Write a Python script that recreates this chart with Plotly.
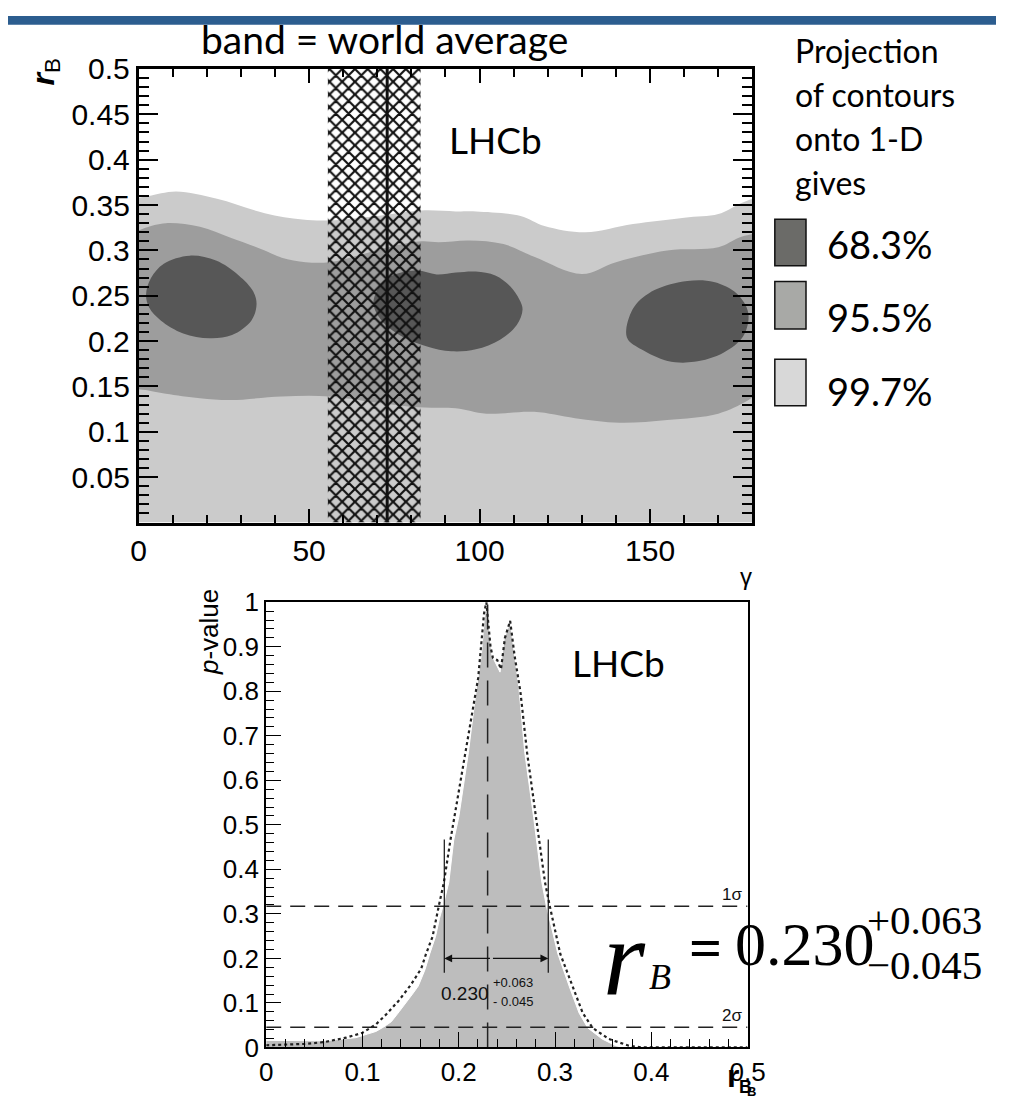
import plotly.graph_objects as go

W, H = 1014, 1114

# ---------------- top panel: r_B vs gamma contours ----------------
# 99.7% region (from r_B = 0 up to this boundary)
g997_top = [0, 3, 11, 23, 37, 48, 56, 70, 83, 93, 99, 112, 119, 131, 145, 160, 170, 176, 180]
rb997_top = [0.358, 0.360, 0.365, 0.357, 0.341, 0.334, 0.333, 0.338, 0.344, 0.343, 0.343,
             0.338, 0.327, 0.320, 0.329, 0.336, 0.340, 0.351, 0.357]

# 95.5% band boundaries
g955_top = [0, 2, 8, 18, 27, 37, 42, 49, 56, 65, 75, 83, 88, 97, 107, 116, 130, 140, 155, 170, 176, 180]
rb955_top = [0.322, 0.325, 0.330, 0.326, 0.314, 0.300, 0.292, 0.287, 0.287, 0.295, 0.305, 0.310,
             0.309, 0.311, 0.307, 0.293, 0.274, 0.287, 0.300, 0.3035, 0.314, 0.318]
g955_bot = [0, 2, 8, 18, 27, 42, 56, 70, 82, 93, 102, 116, 128, 141, 155, 170, 178, 180]
rb955_bot = [0.147, 0.146, 0.142, 0.137, 0.135, 0.139, 0.139, 0.132, 0.127, 0.126, 0.120,
             0.122, 0.115, 0.110, 0.113, 0.120, 0.133, 0.138]

# 68.3% islands
ell1_g = [2.2, 3.6, 7.4, 15.0, 22.7, 29.3, 33.6, 34.6, 33.1, 27.4, 20.8, 13.1, 6.5, 3.1, 2.2]
ell1_rb = [0.2513, 0.2692, 0.2853, 0.2942, 0.2888, 0.2727, 0.2549, 0.2406, 0.2228, 0.2067,
           0.2032, 0.2085, 0.2228, 0.2370, 0.2513]
ell2_g = [68.9, 71.7, 76.0, 81.7, 87.4, 93.1, 98.9, 104.6, 108.9, 111.7, 112.6, 110.9, 106.0,
          98.9, 91.7, 84.6, 77.4, 71.7, 69.4, 68.9]
ell2_rb = [0.2444, 0.2660, 0.2745, 0.2777, 0.2735, 0.2756, 0.2767, 0.2724, 0.2606, 0.2456,
           0.2349, 0.2177, 0.2016, 0.1909, 0.1887, 0.1941, 0.2048, 0.2209, 0.2338, 0.2444]
ell3_g = [143.0, 145.4, 151.3, 160.9, 168.7, 175.4, 178.8, 177.3, 171.5, 162.9, 155.1, 147.4,
          143.5, 143.0]
ell3_rb = [0.2127, 0.2381, 0.2562, 0.2663, 0.2652, 0.2525, 0.2308, 0.2054, 0.1872, 0.1771,
           0.1781, 0.1909, 0.2017, 0.2127]

# world average of gamma
wa_center = 72.9
wa_low = 55.5
wa_high = 82.7

# ---------------- bottom panel: p-value scan of r_B ----------------
rb_scan = [0.0, 0.02, 0.04, 0.06, 0.08, 0.093, 0.105, 0.114, 0.122, 0.130, 0.138, 0.146, 0.152,
           0.158, 0.165, 0.170, 0.176, 0.180, 0.184, 0.1897, 0.1948, 0.200, 0.210, 0.2185,
           0.2236, 0.2263, 0.2287, 0.2345, 0.2388, 0.2429, 0.2473, 0.2534, 0.2625, 0.2686,
           0.2778, 0.2863, 0.291, 0.303, 0.315, 0.325, 0.334, 0.349, 0.363, 0.372, 0.5]
p_scan = [0.016, 0.016, 0.015, 0.015, 0.019, 0.022, 0.030, 0.036, 0.046, 0.058, 0.080, 0.102,
          0.120, 0.138, 0.175, 0.211, 0.250, 0.290, 0.320, 0.371, 0.466, 0.517, 0.662, 0.808,
          0.883, 0.956, 1.0, 0.880, 0.860, 0.843, 0.919, 0.956, 0.808, 0.662, 0.517, 0.371,
          0.318, 0.210, 0.136, 0.0775, 0.044, 0.019, 0.004, 0.0, 0.0]

rb_prof = [0.0, 0.02, 0.04, 0.06, 0.083, 0.10, 0.1135, 0.125, 0.1372, 0.150, 0.161, 0.166,
           0.1728, 0.1795, 0.1846, 0.1914, 0.2066, 0.2202, 0.2263, 0.2287, 0.2330, 0.2355,
           0.2400, 0.2439, 0.2480, 0.2534, 0.2580, 0.2640, 0.271, 0.2896, 0.2945, 0.3055,
           0.3185, 0.3288, 0.339, 0.356, 0.3767, 0.39, 0.5]
p_prof = [0.005, 0.006, 0.008, 0.012, 0.022, 0.033, 0.051, 0.075, 0.104, 0.14, 0.177, 0.21,
          0.249, 0.32, 0.371, 0.466, 0.662, 0.83, 0.975, 1.0, 0.90, 0.875, 0.87, 0.85, 0.92,
          0.958, 0.88, 0.80, 0.662, 0.371, 0.318, 0.21, 0.136, 0.0775, 0.044, 0.019, 0.004,
          0.0, 0.0]

rb_best = 0.230
rb_err_up = 0.063
rb_err_dn = 0.045
cl_1sigma = 0.317
cl_2sigma = 0.0455

# ---------------- colours ----------------
C_DARK, C_MID, C_LIGHT = "#575757", "#9d9d9d", "#cbcbcb"
LEG_DARK, LEG_MID, LEG_LIGHT = "#6b6b68", "#a8a9a6", "#d8d8d8"
SCAN_GREY = "#bdbdbd"
SANS = "Liberation Sans"
TEXT = "Lato"
SERIF = "Liberation Serif"


def px(x):
    return x / W


def py(y):
    return 1 - y / H


fig = go.Figure()

# contour regions
fig.add_trace(go.Scatter(x=g997_top, y=rb997_top, mode="lines", line=dict(width=0, shape="spline"),
                         fill="tozeroy", fillcolor=C_LIGHT, xaxis="x", yaxis="y"))
fig.add_trace(go.Scatter(x=g955_bot, y=rb955_bot, mode="lines", line=dict(width=0, shape="spline"),
                         xaxis="x", yaxis="y"))
fig.add_trace(go.Scatter(x=g955_top, y=rb955_top, mode="lines", line=dict(width=0, shape="spline"),
                         fill="tonexty", fillcolor=C_MID, xaxis="x", yaxis="y"))
for eg, er in [(ell1_g, ell1_rb), (ell2_g, ell2_rb), (ell3_g, ell3_rb)]:
    fig.add_trace(go.Scatter(x=eg, y=er, mode="lines", line=dict(width=0, shape="spline"),
                             fill="toself", fillcolor=C_DARK, xaxis="x", yaxis="y"))

# cross-hatched world-average band
fig.add_trace(go.Scatter(x=[wa_low, wa_high, wa_high, wa_low, wa_low], y=[0, 0, 0.5, 0.5, 0],
                         mode="lines", line=dict(width=0), fill="toself",
                         fillcolor="rgba(0,0,0,0)",
                         fillpattern=dict(shape="x", fillmode="overlay", fgcolor="#111111",
                                          fgopacity=1, size=9, solidity=0.42),
                         xaxis="x", yaxis="y"))
fig.add_trace(go.Scatter(x=[wa_center, wa_center], y=[0, 0.5], mode="lines",
                         line=dict(color="#111111", width=3), xaxis="x", yaxis="y"))

# p-value scan
fig.add_trace(go.Scatter(x=rb_scan, y=p_scan, mode="lines", line=dict(color="white", width=1),
                         fill="tozeroy", fillcolor=SCAN_GREY, xaxis="x2", yaxis="y2"))
fig.add_trace(go.Scatter(x=rb_prof, y=p_prof, mode="lines", line=dict(color="#222222", width=2.2, dash="dot"),
                         xaxis="x2", yaxis="y2"))
for lvl in (cl_1sigma, cl_2sigma):
    fig.add_trace(go.Scatter(x=[0, 0.5], y=[lvl, lvl], mode="lines",
                             line=dict(color="#222222", width=1.5, dash="15px,9px"),
                             xaxis="x2", yaxis="y2"))
fig.add_trace(go.Scatter(x=[rb_best, rb_best], y=[0, 1], mode="lines",
                         line=dict(color="#222222", width=1.5, dash="25px,13px"),
                         xaxis="x2", yaxis="y2"))
for xv in (rb_best - rb_err_dn, rb_best + rb_err_up):
    fig.add_trace(go.Scatter(x=[xv, xv], y=[0.168, 0.467], mode="lines",
                             line=dict(color="#111111", width=1.2), xaxis="x2", yaxis="y2"))

annotations = []
# double-headed arrow of the interval
for xv in (rb_best - rb_err_dn, rb_best + rb_err_up):
    annotations.append(dict(x=xv, y=0.2, ax=rb_best + 0.004, ay=0.2, xref="x2", yref="y2",
                            axref="x2", ayref="y2", showarrow=True, arrowhead=2, arrowsize=1.3,
                            arrowwidth=1.2, arrowcolor="#111111", text=""))

# in-plot result label
annotations += [
    dict(x=rb_best - 0.023, y=0.122, xref="x2", yref="y2", text="0.230", showarrow=False,
         font=dict(family=SANS, size=19, color="#111111")),
    dict(x=rb_best + 0.003, y=0.145, xref="x2", yref="y2", text="+0.063", showarrow=False,
         xanchor="left", font=dict(family=SANS, size=13, color="#111111")),
    dict(x=rb_best + 0.003, y=0.104, xref="x2", yref="y2", text="- 0.045", showarrow=False,
         xanchor="left", font=dict(family=SANS, size=13, color="#111111")),
    dict(x=0.5, y=cl_1sigma, xref="x2", yref="y2", text="1σ", showarrow=False, xanchor="right",
         yanchor="bottom", xshift=-4, font=dict(family=SANS, size=17, color="#111111")),
    dict(x=0.5, y=cl_2sigma, xref="x2", yref="y2", text="2σ", showarrow=False, xanchor="right",
         yanchor="bottom", xshift=-4, font=dict(family=SANS, size=17, color="#111111")),
]


def txt(x, y, text, size, family=TEXT, xanchor="center", yanchor="middle", angle=0, color="black"):
    annotations.append(dict(x=px(x), y=py(y), xref="paper", yref="paper", text=text,
                            showarrow=False, xanchor=xanchor, yanchor=yanchor, textangle=angle,
                            font=dict(family=family, size=size, color=color)))


# headings and labels
txt(386, 24, "band = world average", 39)
txt(500, 127, "LHCb", 37)
txt(627, 665, "LHCb", 37)
for i, line in enumerate(["Projection", "of contours", "onto 1-D", "gives"]):
    txt(806, 36 + 45 * i, line, 32, xanchor="left")
txt(838, 235, "68.3%", 38, xanchor="left")
txt(838, 310, "95.5%", 38, xanchor="left")
txt(838, 386, "99.7%", 38, xanchor="left")

# axis titles
txt(38, 58, "<i><b>r</b></i><sub>B</sub>", 32, family=SANS, angle=-90)
txt(757, 577, "γ", 24, family=SANS)
txt(207, 634, "<i>p</i>-value", 26, family=SANS, angle=-90)
txt(744, 1090, "<b>r</b>", 32, family=SANS)
txt(757, 1102, "<b>B</b>", 18, family=SANS)
txt(763, 1106, "<b>B</b>", 13, family=SANS)

# large result formula
txt(633, 968, "<i>r</i>", 108, family=SERIF)
txt(669, 988, "<i>B</i>", 36, family=SERIF)
txt(716, 958, "<b>=</b>", 58, family=SERIF)
txt(744, 955, "0.230", 62, family=SERIF, xanchor="left")
txt(880, 930, "+0.063", 41, family=SERIF, xanchor="left")
txt(880, 976, "−0.045", 41, family=SERIF, xanchor="left")

shapes = [
    dict(type="rect", xref="paper", yref="paper", x0=0, x1=1, y0=py(9), y1=1,
         fillcolor="#2c5d8f", line=dict(width=0)),
]
for (y0, y1, col) in [(209, 257, LEG_DARK), (273, 322, LEG_MID), (353, 401, LEG_LIGHT)]:
    shapes.append(dict(type="rect", xref="paper", yref="paper", x0=px(787), x1=px(819),
                       y0=py(y1), y1=py(y0), fillcolor=col, line=dict(color="#111111", width=1.5)))

tickfont = dict(family=SANS, size=30, color="black")
tickfont2 = dict(family=SANS, size=26, color="black")

fig.update_layout(
    width=W, height=H, margin=dict(l=0, r=0, t=0, b=0),
    paper_bgcolor="white", plot_bgcolor="white", showlegend=False,
    annotations=annotations, shapes=shapes,
    xaxis=dict(domain=[px(134), px(764)], range=[0, 180], anchor="y",
               showline=True, linecolor="black", linewidth=2.5, mirror="ticks",
               ticks="inside", ticklen=14, tickwidth=1.5, tickcolor="black",
               tick0=0, dtick=50, showgrid=False, zeroline=False, tickfont=tickfont,
               minor=dict(dtick=10, ticks="inside", ticklen=8, tickwidth=1.5, tickcolor="black",
                          showgrid=False)),
    yaxis=dict(domain=[py(521), py(54.5)], range=[0, 0.5], anchor="x",
               showline=True, linecolor="black", linewidth=2.5, mirror="ticks",
               ticks="inside", ticklen=20, tickwidth=1.5, tickcolor="black",
               tickmode="array",
               tickvals=[0.05, 0.1, 0.15, 0.2, 0.25, 0.3, 0.35, 0.4, 0.45, 0.5],
               ticktext=["0.05", "0.1", "0.15", "0.2", "0.25", "0.3", "0.35", "0.4", "0.45", "0.5"],
               showgrid=False, zeroline=False, tickfont=tickfont,
               minor=dict(tickmode="linear", tick0=0, dtick=0.01, ticks="inside", ticklen=11,
                          tickwidth=1.5, tickcolor="black", showgrid=False)),
    xaxis2=dict(domain=[px(265), px(759)], range=[0, 0.5], anchor="y2",
                showline=True, linecolor="black", linewidth=2, mirror=True,
                ticks="inside", ticklen=15, tickwidth=1.2, tickcolor="black",
                tick0=0, dtick=0.1, showgrid=False, zeroline=False, tickfont=tickfont2,
                minor=dict(dtick=0.02, ticks="inside", ticklen=8, tickwidth=1.2, tickcolor="black",
                           showgrid=False)),
    yaxis2=dict(domain=[py(1061), py(603)], range=[0, 1], anchor="x2",
                showline=True, linecolor="black", linewidth=2, mirror=True,
                ticks="inside", ticklen=15, tickwidth=1.2, tickcolor="black",
                tick0=0, dtick=0.1, showgrid=False, zeroline=False, tickfont=tickfont2,
                minor=dict(dtick=0.02, ticks="inside", ticklen=8, tickwidth=1.2, tickcolor="black",
                           showgrid=False)),
)

fig.write_html("out.html",
               post_script="document.body.style.margin='0';document.body.style.overflow='hidden';")
